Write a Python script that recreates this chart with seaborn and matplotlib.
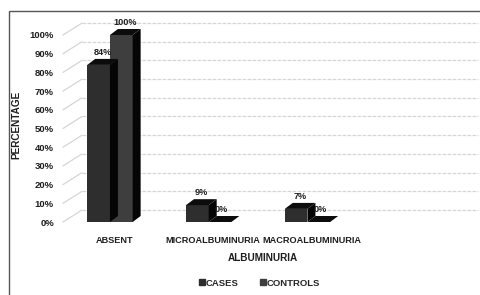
import matplotlib
matplotlib.use("Agg")
import matplotlib.pyplot as plt
import seaborn as sns
import pandas as pd
from matplotlib.patches import Polygon, Rectangle
from matplotlib.lines import Line2D

categories = ["ABSENT", "MICROALBUMINURIA", "MACROALBUMINURIA"]
cases = [84, 9, 7]
controls = [100, 0, 0]
groups = ["CASES", "CONTROLS"]
yticks = [0, 10, 20, 30, 40, 50, 60, 70, 80, 90, 100]

df = pd.DataFrame({
    "category": categories * 2,
    "value": cases + controls,
    "group": [groups[0]] * 3 + [groups[1]] * 3,
})

sns.set_theme(style="white")
plt.rcParams["font.family"] = ["Liberation Sans", "DejaVu Sans"]
TXT = "#1e1e1e"

W, H = 481, 295
fig = plt.figure(figsize=(W / 100, H / 100), dpi=100)
L, R, B, T = 65 / W, 460 / W, 1 - 222 / H, 1 - 35 / H
ax = fig.add_axes([L, B, R - L, T - B])

front = {"CASES": "#2e2e2e", "CONTROLS": "#3e3e3e"}
sns.barplot(data=df, x="category", y="value", hue="group", order=categories,
            hue_order=groups, palette=front, width=0.46, ax=ax,
            legend=False, saturation=1, linewidth=0)

xmin, xmax = -0.5, 3.5
ax.set_xlim(xmin, xmax)
ax.set_ylim(0, 100)
axw = (R - L) * W
axh = (T - B) * H
pxx = (xmax - xmin) / axw
pxy = 100 / axh

# back wall offset
gdx, gdy = 17 * pxx, 12 * pxy
for v in yticks:
    ax.plot([xmin + gdx, xmax + 1 * pxx + gdx], [v + gdy, v + gdy],
            color="#d6d6d6", lw=0.9, ls=(0, (3, 1)), clip_on=False, zorder=0)
    ax.plot([xmin - 2 * pxx, xmin + gdx], [v, v + gdy],
            color="#d6d6d6", lw=0.9, clip_on=False, zorder=0)

# 3D bar faces
ddx, ddy = 8 * pxx, 6 * pxy
bars = [p for p in ax.patches]
for p in bars:
    p.set_x(p.get_x() - 0.045)
    x0, w, h = p.get_x(), p.get_width(), p.get_height()
    x1 = x0 + w
    top = Polygon([[x0, h], [x1, h], [x1 + ddx, h + ddy], [x0 + ddx, h + ddy]],
                  closed=True, facecolor="#0c0c0c", edgecolor="none", zorder=3,
                  clip_on=False)
    side = Polygon([[x1, 0], [x1 + ddx, ddy], [x1 + ddx, h + ddy], [x1, h]],
                   closed=True, facecolor="#050505", edgecolor="none", zorder=3,
                   clip_on=False)
    ax.add_patch(side)
    ax.add_patch(top)
    lx = x0 + w / 2 + ddx / 2 - (3 * pxx if h == 0 else 0)
    ax.text(lx, h + ddy + 1.0, f"{int(h)}%", ha="center",
            va="bottom", fontsize=6.6, fontweight="bold", color=TXT, zorder=5,
            clip_on=False)

ax.set_yticks(yticks)
ax.set_yticklabels([f"{v}%" for v in yticks], fontsize=6.8, fontweight="bold",
                   color=TXT)
ax.tick_params(axis="y", pad=8, length=0)
ax.tick_params(axis="x", pad=10, length=0)
ax.set_xticks(range(len(categories)))
ax.set_xticklabels(categories, fontsize=6.6, fontweight="bold", color=TXT)
ax.set_xlabel("ALBUMINURIA", fontsize=7.2, fontweight="bold", color=TXT,
              labelpad=6)
ax.set_ylabel("PERCENTAGE", fontsize=7.2, fontweight="bold", color=TXT)
ax.yaxis.set_label_coords(-0.11, 0.52)
for s in ax.spines.values():
    s.set_visible(False)
ax.grid(False)
ax.set_facecolor("none")

# outer frame (left and top visible)
fig.patches.append(Rectangle((9 / W, -0.1), 1.2, 1 - 11 / H + 0.1,
                             transform=fig.transFigure, fill=False,
                             edgecolor="#555555", lw=1.0))

handles = [Line2D([], [], marker="s", ls="none", color=front[g], markersize=4.5)
           for g in groups]
fig.legend(handles, groups, loc="center", bbox_to_anchor=(258 / W, 1 - 283 / H),
           ncol=2, frameon=False, handletextpad=-0.2, handlelength=1.2,
           columnspacing=2.0, prop={"weight": "bold", "size": 6.8})

fig.savefig("out.png", dpi=100)
